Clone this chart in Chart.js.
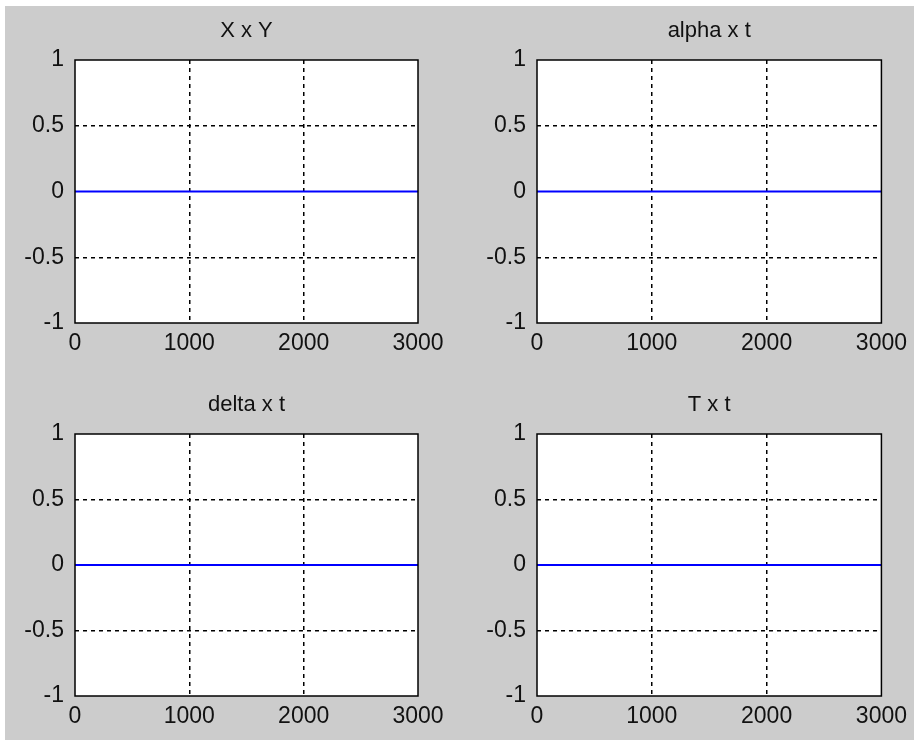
<!DOCTYPE html>
<html lang="en">
<head>
    <meta charset="UTF-8">
    <title>Subplots</title>
    <script src="https://cdn.jsdelivr.net/npm/chart.js"></script>
    <style>
        body {
            margin: 0;
            background: #ffffff;
            width: 914px;
            height: 740px;
            overflow: hidden;
        }
        #figure {
            position: absolute;
            left: 5px;
            top: 6px;
            right: 0;
            bottom: 0;
            background: #cccccc;
        }
        .panel {
            position: absolute;
        }
    </style>
</head>
<body>
    <div id="figure"></div>
    <div class="panel" style="left:5px; top:6px; width:452px; height:364px;"><canvas id="c0"></canvas></div>
    <div class="panel" style="left:457px; top:6px; width:457px; height:364px;"><canvas id="c1"></canvas></div>
    <div class="panel" style="left:5px; top:370px; width:452px; height:370px;"><canvas id="c2"></canvas></div>
    <div class="panel" style="left:457px; top:370px; width:457px; height:370px;"><canvas id="c3"></canvas></div>

    <script>
        // data
        const titles = ["X x Y", "alpha x t", "delta x t", "T x t"];
        const time = [0, 3000];
        const xySeries = [0, 0];
        const alphaSeries = [0, 0];
        const deltaSeries = [0, 0];
        const tempSeries = [0, 0];
        const xTicks = [0, 1000, 2000, 3000];
        const yTicks = [-1, -0.5, 0, 0.5, 1];

        const seriesList = [xySeries, alphaSeries, deltaSeries, tempSeries];

        // layout per panel (y axis width, paddings, x axis height)
        const layouts = [
            { yWidth: 70, padRight: 39, padTop: 54, xHeight: 47 },
            { yWidth: 80, padRight: 32, padTop: 54, xHeight: 47 },
            { yWidth: 70, padRight: 39, padTop: 64, xHeight: 44 },
            { yWidth: 80, padRight: 32, padTop: 64, xHeight: 44 }
        ];

        const FONT = "'Liberation Sans', Arial, sans-serif";
        const TEXT = "#111111";

        // white axes background, solid box and title centred over the axes, like matlab
        const boxPlugin = {
            id: "box",
            beforeDraw(chart) {
                const a = chart.chartArea;
                const ctx = chart.ctx;
                ctx.save();
                ctx.fillStyle = "#ffffff";
                ctx.fillRect(a.left, a.top, a.right - a.left, a.bottom - a.top);
                ctx.restore();
            },
            afterDatasetsDraw(chart) {
                const a = chart.chartArea;
                const ctx = chart.ctx;
                ctx.save();
                ctx.strokeStyle = "#000000";
                ctx.lineWidth = 1.5;
                ctx.strokeRect(a.left, a.top, a.right - a.left, a.bottom - a.top);
                ctx.fillStyle = TEXT;
                ctx.font = "22px " + FONT;
                ctx.textAlign = "center";
                ctx.textBaseline = "middle";
                ctx.fillText(chart.options.plugins.box.text, (a.left + a.right) / 2, a.top - 29.5);
                ctx.restore();
            }
        };

        Chart.defaults.font.family = FONT;
        Chart.defaults.color = TEXT;

        // grid hidden on the box edges (box drawn solid) and under the zero line
        const gridColor = (edges) => c => (c.tick && edges.includes(c.tick.value)) ? "rgba(0,0,0,0)" : "#000000";

        titles.forEach((title, i) => {
            const lay = layouts[i];
            const points = time.map((t, k) => ({ x: t, y: seriesList[i][k] }));

            new Chart(document.getElementById("c" + i), {
                type: "line",
                data: {
                    datasets: [{
                        data: points,
                        borderColor: "#0000ff",
                        borderWidth: 2,
                        pointRadius: 0,
                        fill: false
                    }]
                },
                options: {
                    responsive: true,
                    maintainAspectRatio: false,
                    animation: false,
                    layout: { padding: { left: 0, right: lay.padRight, top: lay.padTop, bottom: 0 } },
                    plugins: {
                        legend: { display: false },
                        tooltip: { enabled: false },
                        title: { display: false },
                        box: { text: title }
                    },
                    scales: {
                        x: {
                            type: "linear",
                            min: xTicks[0],
                            max: xTicks[xTicks.length - 1],
                            afterBuildTicks: s => { s.ticks = xTicks.map(v => ({ value: v })); },
                            afterFit: s => { s.height = lay.xHeight; },
                            ticks: {
                                font: { size: 23 },
                                padding: 7,
                                maxRotation: 0,
                                callback: v => String(v)
                            },
                            grid: {
                                drawTicks: false,
                                color: gridColor([xTicks[0], xTicks[xTicks.length - 1]]),
                                lineWidth: 1.5
                            },
                            border: { display: false, dash: [4, 4] }
                        },
                        y: {
                            type: "linear",
                            min: yTicks[0],
                            max: yTicks[yTicks.length - 1],
                            afterBuildTicks: s => { s.ticks = yTicks.map(v => ({ value: v })); },
                            afterFit: s => { s.width = lay.yWidth; },
                            ticks: {
                                font: { size: 23 },
                                padding: 11,
                                callback: v => String(v)
                            },
                            grid: {
                                drawTicks: false,
                                color: gridColor([yTicks[0], 0, yTicks[yTicks.length - 1]]),
                                lineWidth: 1.5
                            },
                            border: { display: false, dash: [4, 4] }
                        }
                    }
                },
                plugins: [boxPlugin]
            });
        });
    </script>
</body>
</html>
